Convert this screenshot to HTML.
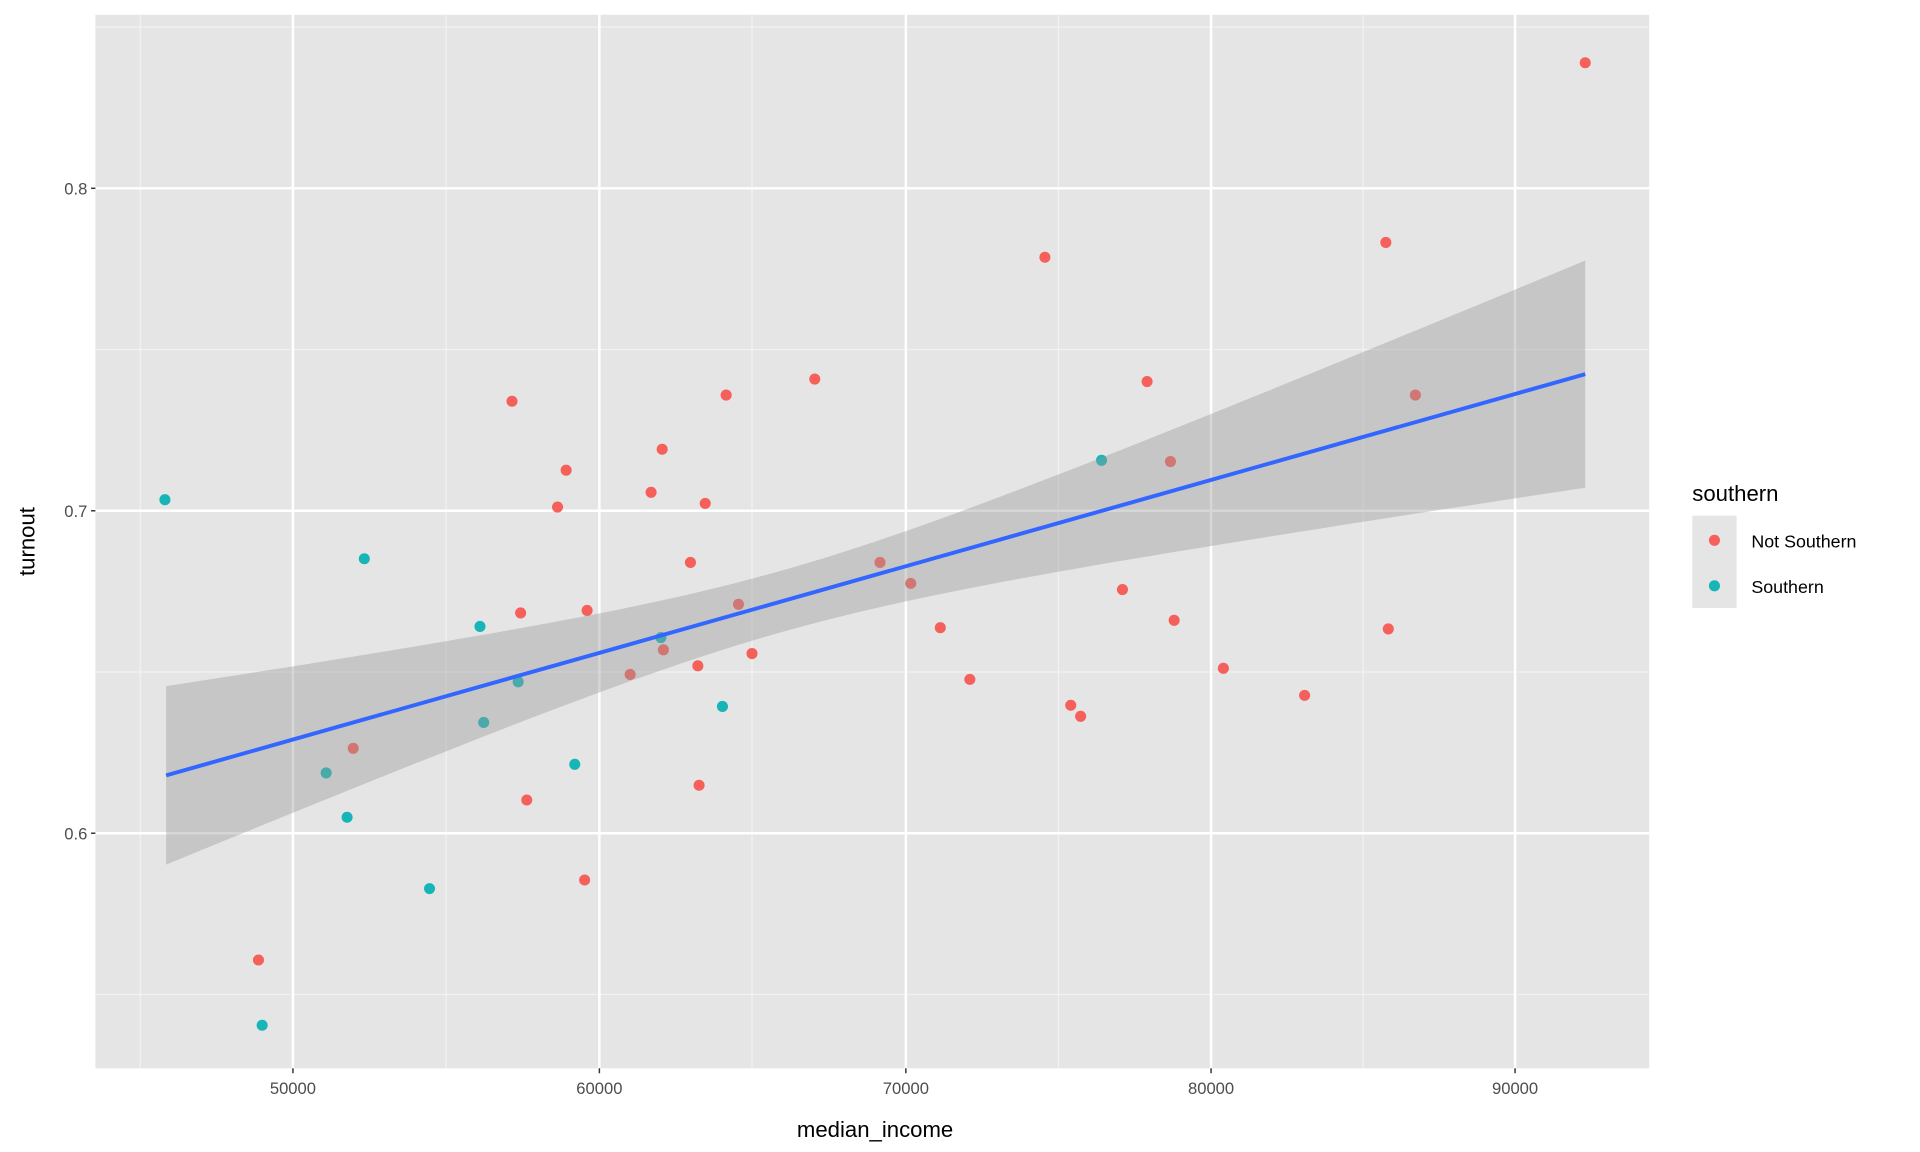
<!DOCTYPE html>
<html><head><style>html,body{margin:0;padding:0;background:#fff}svg{display:block}</style></head>
<body>
<svg id="s" width="1920" height="1152" viewBox="0 0 1560 936" xmlns="http://www.w3.org/2000/svg" font-family="Liberation Sans, Arial, sans-serif">
<rect x="77.5" y="12" width="1262.5" height="856" fill="#E5E5E5"/>
<g stroke="#F2F2F2" stroke-width="1">
<line x1="77.5" x2="1340" y1="22" y2="22"/><line x1="77.5" x2="1340" y1="284" y2="284"/><line x1="77.5" x2="1340" y1="546" y2="546"/><line x1="77.5" x2="1340" y1="808" y2="808"/>
<line y1="12" y2="868" x1="114" x2="114"/><line y1="12" y2="868" x1="362.5" x2="362.5"/><line y1="12" y2="868" x1="611" x2="611"/><line y1="12" y2="868" x1="860" x2="860"/><line y1="12" y2="868" x1="1107.5" x2="1107.5"/>
</g>
<g stroke="#fff" stroke-width="2">
<line x1="77.5" x2="1340" y1="153" y2="153"/><line x1="77.5" x2="1340" y1="415" y2="415"/><line x1="77.5" x2="1340" y1="677" y2="677"/>
<line y1="12" y2="868" x1="238" x2="238"/><line y1="12" y2="868" x1="487" x2="487"/><line y1="12" y2="868" x1="736" x2="736"/><line y1="12" y2="868" x1="984" x2="984"/><line y1="12" y2="868" x1="1231" x2="1231"/>
</g>
<g id="pts"></g>
<path id="rib" fill="#999" fill-opacity="0.4"/>
<line x1="135" y1="630" x2="1288" y2="304" stroke="#3366FF" stroke-width="3.2"/>
<g stroke="#333" stroke-width="1.2">
<line x1="74" x2="77.5" y1="153" y2="153"/><line x1="74" x2="77.5" y1="415" y2="415"/><line x1="74" x2="77.5" y1="677" y2="677"/>
<line y1="868" y2="872" x1="238" x2="238"/><line y1="868" y2="872" x1="487" x2="487"/><line y1="868" y2="872" x1="736" x2="736"/><line y1="868" y2="872" x1="984" x2="984"/><line y1="868" y2="872" x1="1231" x2="1231"/>
</g>
<g font-size="13.5" fill="#4D4D4D" text-anchor="end">
<text x="71" y="158">0.8</text><text x="71" y="420">0.7</text><text x="71" y="682">0.6</text>
</g>
<g font-size="13.5" fill="#4D4D4D" text-anchor="middle">
<text x="238" y="889">50000</text><text x="487" y="889">60000</text><text x="736" y="889">70000</text><text x="984" y="889">80000</text><text x="1231" y="889">90000</text>
</g>
<text x="711" y="924" font-size="18" text-anchor="middle" fill="#000">median_income</text>
<text transform="translate(28,440) rotate(-90)" font-size="18" text-anchor="middle" fill="#000">turnout</text>
<text x="1375" y="407" font-size="18" fill="#000">southern</text>
<rect x="1375" y="419" width="36" height="75" fill="#E5E5E5"/>
<circle cx="1393" cy="439" r="4.5" fill="#F5605A"/>
<circle cx="1393" cy="476" r="4.5" fill="#17B5B8"/>
<text x="1423" y="445" font-size="14.5" fill="#000">Not Southern</text>
<text x="1423" y="482" font-size="14.5" fill="#000">Southern</text>
</svg>
<script>
var red=[[1288,51],[1126,197],[849,209],[932,310],[662,308],[590,321],[416,326],[1150,321],[951,375],[538,365],[460,382],[529,400],[453,412],[573,409],[561,457],[715,457],[740,474],[912,479],[600,491],[423,498],[477,496],[954,504],[764,510],[1128,511],[611,531],[539,528],[512,548],[567,541],[994,543],[788,552],[1060,565],[870,573],[878,582],[287,608],[568,638],[428,650],[475,715],[210,780]];
var teal=[[134,406],[296,454],[390,509],[895,374],[537,518],[421,554],[393,587],[265,628],[587,574],[467,621],[282,664],[349,722],[213,833]];
var g=document.getElementById('pts'),h='';
red.forEach(function(p){h+='<circle cx="'+p[0]+'" cy="'+p[1]+'" r="4.5" fill="#F5605A"/>';});
teal.forEach(function(p){h+='<circle cx="'+p[0]+'" cy="'+p[1]+'" r="4.5" fill="#17B5B8"/>';});
g.innerHTML=h;
function ly(x){return 630-(x-135)*326/1153;}
function hw(x){return Math.sqrt(625+0.0185*(x-635)*(x-635));}
var up=[],lo=[];
for(var x=135;x<=1288;x+=(x+20>1288&&x<1288?1288-x:20)){up.push(x+','+(ly(x)-hw(x)).toFixed(1));lo.unshift(x+','+(ly(x)+hw(x)).toFixed(1));if(x==1288)break;}
document.getElementById('rib').setAttribute('d','M'+up.join('L')+'L'+lo.join('L')+'Z');
</script>
</body></html>
